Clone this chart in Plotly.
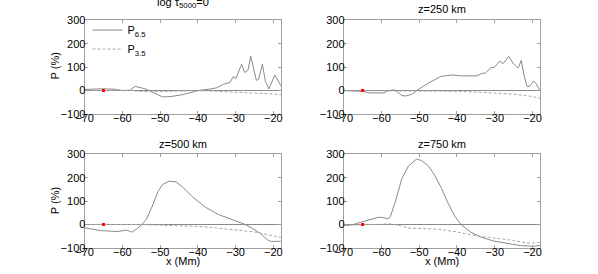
import plotly.graph_objects as go

# ---------------- data ----------------
# Panel 1: log tau_5000 = 0
p1_x65 = [-70, -67, -65, -62, -60, -58, -56.6, -54, -52, -50.5, -49.3, -47, -44, -42, -39.7, -36.7, -35, -33.2, -31.5, -30.6, -29.9, -28.4, -27.6, -26.7, -26.0, -24.5, -23.9, -22.9, -22.1, -21.2, -19.6, -18.4, -18]
p1_y65 = [5, 7, 8, 6, 0, 2, 18, 8, -5, -18, -27, -25, -17, -10, 1, 7, 12, 27, 35, 60, 52, 113, 77, 88, 147, 44, 48, 113, 40, 7, 67, 33, 20]
p1_x35 = [-70, -65, -60, -58, -55, -52, -50, -45, -40, -35, -30, -25, -22, -20, -18]
p1_y35 = [0, 0, 0, 1, -4, -5, -4, -2, 0, -3, -7, -10, -11, -13, -16]

# Panel 2: z = 250 km
p2_x65 = [-70, -67, -65, -63.3, -59.4, -58, -56.5, -54.6, -53.7, -52, -50.7, -47.6, -44.2, -41.2, -39.1, -34.7, -33.4, -32.5, -31, -30.2, -28.6, -27.8, -26.3, -25.2, -24.1, -23.7, -23, -22.2, -21.5, -20.8, -19.7, -19, -18.2, -18]
p2_y65 = [0, -2, -3, -10, -10, 1, 3, -21, -23, -16, 0, 32, 61, 67, 63, 63, 74, 74, 99, 98, 127, 115, 146, 118, 99, 99, 129, 63, 19, 17, 41, 30, -1, -3]
p2_x35 = [-70, -65, -60, -55, -50, -45, -40, -35, -32, -28, -25, -22, -20, -18]
p2_y35 = [0, 0, 0, 0, 0, 0, -3, -6, -8, -12, -15, -21, -25, -33]

# Panel 3: z = 500 km
p3_x65 = [-70, -65.8, -61.4, -58.8, -57.5, -56.2, -54.9, -53.6, -51.9, -50.6, -49.3, -47.6, -45.8, -44.1, -41.5, -38, -34.6, -31.1, -27.6, -25.5, -23.3, -21.6, -20.7, -18]
p3_y65 = [-14, -26, -30, -24, -33, -19, -1, 22, 85, 140, 171, 185, 182, 161, 119, 74, 43, 22, 1, -17, -40, -65, -72, -72]
p3_x35 = [-70, -65, -60, -57, -55, -50, -45, -40, -35, -30, -25, -22, -20, -18]
p3_y35 = [0, 0, 0, 3, 0, -3, -5, -8, -15, -22, -32, -42, -48, -55]

# Panel 4: z = 750 km
p4_x65 = [-70, -67.6, -65, -62.4, -60.7, -59.4, -58.2, -57.6, -56.3, -54.6, -52.8, -50.7, -49.4, -47.6, -45.9, -44.1, -42.4, -40.6, -38.9, -36.3, -33.7, -30.2, -26.7, -23.2, -19.7, -18]
p4_y65 = [-5, -1, 12, 25, 31, 29, 24, 36, 99, 196, 251, 279, 273, 251, 210, 154, 92, 36, -1, -33, -54, -71, -82, -90, -93, -89]
p4_x35 = [-70, -65, -61, -58, -55, -53, -50, -45, -40, -35, -30, -25, -22, -20, -18]
p4_y35 = [-3, -2, 0, 3, -5, -15, -16, -20, -32, -48, -58, -68, -78, -80, -75]

marker_x = [-65]
marker_y = [0]

titles = ["log τ<sub>5000</sub>=0", "z=250 km", "z=500 km", "z=750 km"]
x_ticks = [-70, -60, -50, -40, -30, -20]
y_ticks = [-100, 0, 100, 200, 300]

# ---------------- figure ----------------
W, H = 598, 274
FONT = "Liberation Sans, Arial, Helvetica, sans-serif"
LINE_COL = "#8a8a8a"
FRAME_COL = "#a0a0a0"

def fx(px):
    return px / W

def fy(py):
    return 1 - py / H

panels = [
    dict(xd=[fx(77), fx(277)], yd=[fy(113), fy(15)], x65=p1_x65, y65=p1_y65, x35=p1_x35, y35=p1_y35),
    dict(xd=[fx(341), fx(541)], yd=[fy(113), fy(15)], x65=p2_x65, y65=p2_y65, x35=p2_x35, y35=p2_y35),
    dict(xd=[fx(77), fx(277)], yd=[fy(253), fy(155)], x65=p3_x65, y65=p3_y65, x35=p3_x35, y35=p3_y35),
    dict(xd=[fx(341), fx(541)], yd=[fy(253), fy(155)], x65=p4_x65, y65=p4_y65, x35=p4_x35, y35=p4_y35),
]

fig = go.Figure()
layout = dict(
    width=W, height=H,
    margin=dict(l=0, r=0, t=0, b=0),
    paper_bgcolor="white", plot_bgcolor="white",
    font=dict(family=FONT, size=11, color="black"),
    showlegend=True,
    legend=dict(x=fx(80), y=fy(10), xanchor="left", yanchor="top",
                bgcolor="rgba(0,0,0,0)", borderwidth=0,
                font=dict(size=11), itemwidth=30, tracegroupgap=0),
)

annotations = []
for i, p in enumerate(panels):
    n = "" if i == 0 else str(i + 1)
    xa, ya = "x" + n, "y" + n
    fig.add_trace(go.Scatter(x=p["x65"], y=p["y65"], mode="lines",
                             line=dict(color=LINE_COL, width=1),
                             name="P<sub>6.5</sub>", showlegend=(i == 0),
                             xaxis=xa, yaxis=ya))
    fig.add_trace(go.Scatter(x=p["x35"], y=p["y35"], mode="lines",
                             line=dict(color="#a8a8a8", width=1, dash="3px,2px"),
                             name="P<sub>3.5</sub>", showlegend=(i == 0),
                             xaxis=xa, yaxis=ya))
    fig.add_trace(go.Scatter(x=marker_x, y=marker_y, mode="markers",
                             marker=dict(color="red", size=3, symbol="square"),
                             showlegend=False, xaxis=xa, yaxis=ya))
    common = dict(showline=True, linecolor=FRAME_COL, linewidth=1, mirror="ticks",
                  ticks="inside", ticklen=3, tickcolor=FRAME_COL,
                  showgrid=False, tickfont=dict(size=11, color="black"))
    layout["xaxis" + n] = dict(domain=p["xd"], anchor=ya, range=[-70, -18],
                               tickvals=x_ticks, zeroline=False,
                               ticklabelstandoff=-6, **common)
    layout["yaxis" + n] = dict(domain=p["yd"], anchor=xa, range=[-100, 300],
                               tickvals=y_ticks, zeroline=True,
                               zerolinecolor=LINE_COL, zerolinewidth=1,
                               ticklabelstandoff=-4, **common)

# titles
title_pos = [(177, -3), (441, 3), (177, 144), (441, 144)]
for (cx, cy), t in zip(title_pos, titles):
    annotations.append(dict(text=t, x=fx(cx), y=fy(cy), xref="paper", yref="paper",
                            showarrow=False, xanchor="center", yanchor="middle",
                            font=dict(size=11)))
# x labels
for cx in (177, 441):
    annotations.append(dict(text="x (Mm)", x=fx(cx), y=fy(267), xref="paper", yref="paper",
                            showarrow=False, xanchor="center", yanchor="middle",
                            font=dict(size=11)))
# y labels
for cy in (63, 204):
    annotations.append(dict(text="P (%)", x=fx(47), y=fy(cy), xref="paper", yref="paper",
                            showarrow=False, xanchor="center", yanchor="middle",
                            textangle=-90, font=dict(size=11)))

layout["annotations"] = annotations
fig.update_layout(**layout)
fig.write_html("out.html", config={"displayModeBar": False},
               post_script="document.body.style.margin='0';document.body.style.padding='0';")
